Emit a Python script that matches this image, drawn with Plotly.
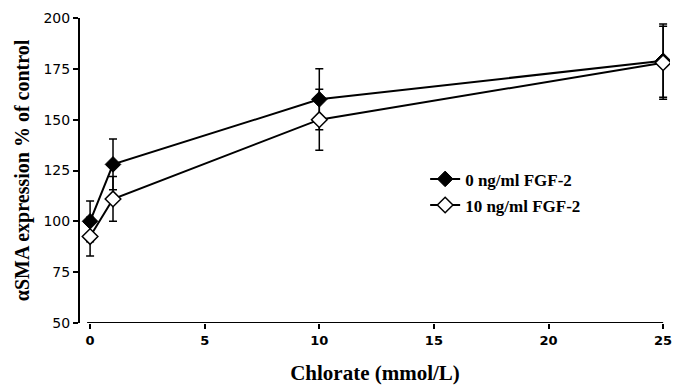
import plotly.graph_objects as go

chlorate = [0, 1, 10, 25]
fgf0_mean = [100, 128, 160, 179]
fgf0_err = [10, 12.5, 15, 18]
fgf10_mean = [92.5, 111, 150, 178]
fgf10_err = [9.5, 11, 15, 18]
names = ["0 ng/ml FGF-2", "10 ng/ml FGF-2"]
x_ticks = [0, 5, 10, 15, 20, 25]
y_ticks = [50, 75, 100, 125, 150, 175, 200]

fig = go.Figure()
fig.add_trace(go.Scatter(
    x=chlorate, y=fgf0_mean, name=names[0], mode="lines+markers",
    legendgroup="a",
    line=dict(color="black", width=2),
    marker=dict(symbol="diamond", size=12, color="black", line=dict(color="black", width=1)),
    error_y=dict(type="data", array=fgf0_err, visible=True, color="black", thickness=1.5, width=4),
))
fig.add_trace(go.Scatter(
    x=chlorate, y=fgf10_mean, name=names[1], mode="lines+markers",
    legendgroup="b",
    line=dict(color="black", width=2),
    marker=dict(symbol="diamond", size=12, color="white", line=dict(color="black", width=1.5)),
    error_y=dict(type="data", array=fgf10_err, visible=True, color="black", thickness=1.5, width=4),
))

fig.add_shape(type="line", xref="x", yref="y", x0=-0.13, x1=25, y0=50, y1=50,
              line=dict(color="black", width=2))

fig.update_layout(
    width=680, height=387,
    margin=dict(l=80, r=10, t=18, b=64),
    paper_bgcolor="white", plot_bgcolor="white",
    showlegend=True,
    legend=dict(x=0.585, y=0.53, xanchor="left", yanchor="top",
                font=dict(family="Liberation Serif", size=17, color="black", weight="bold"),
                bgcolor="rgba(0,0,0,0)", tracegroupgap=1, itemwidth=30),
    xaxis=dict(range=[-0.44, 25.3], tickvals=x_ticks, ticks="outside", ticklen=5,
               tickwidth=1.5, tickcolor="black", showgrid=False, zeroline=False, showline=False,
               automargin=False,
               tickfont=dict(family="DejaVu Sans", size=13, color="black", weight="bold"),
               title=dict(text="Chlorate (mmol/L)", standoff=18,
                          font=dict(family="Liberation Serif", size=21, color="black", weight="bold"))),
    yaxis=dict(range=[50, 200], tickvals=y_ticks, ticks="outside", ticklen=5,
               tickwidth=1.5, tickcolor="black", showgrid=False, zeroline=False,
               showline=True, linecolor="black", linewidth=2, automargin=False,
               tickfont=dict(family="DejaVu Sans", size=14, color="black"),
               title=dict(text="αSMA expression % of control", standoff=8,
                          font=dict(family="Liberation Serif", size=20, color="black", weight="bold"))),
)

fig.write_html("out.html")
